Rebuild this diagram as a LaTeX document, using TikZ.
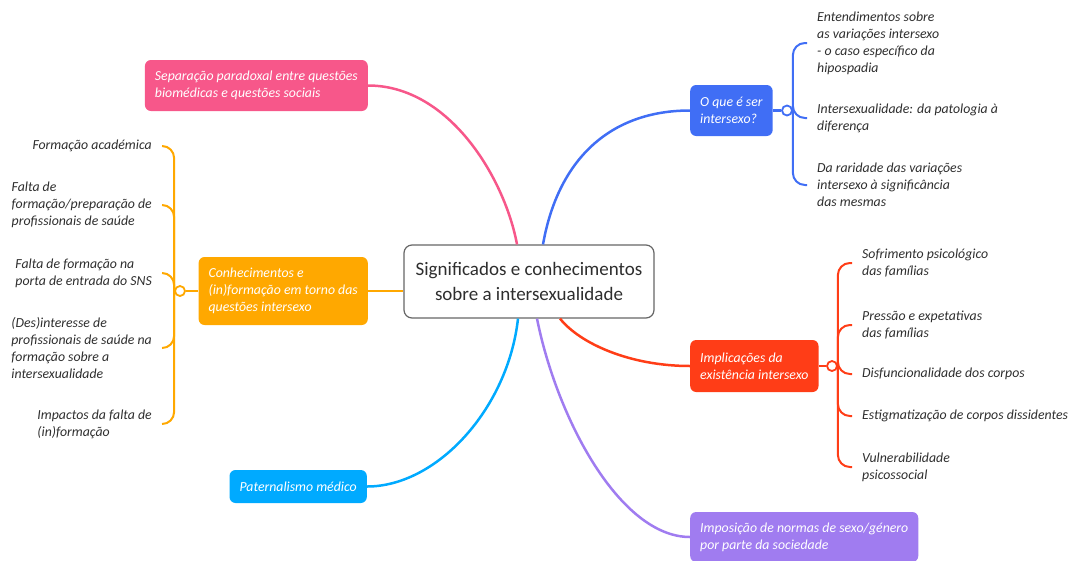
\documentclass[tikz,border=0pt]{standalone}
\usepackage{fontspec}
\setmainfont{Carlito}
\usetikzlibrary{calc}
\definecolor{mmpink}{HTML}{F7578A}
\definecolor{mmblue}{HTML}{406EF5}
\definecolor{mmorange}{HTML}{FFA800}
\definecolor{mmred}{HTML}{FF3D17}
\definecolor{mmpurple}{HTML}{A07CF0}
\definecolor{mmcyan}{HTML}{00AAFF}
\definecolor{leafgray}{HTML}{2E2E2E}
\definecolor{coregray}{HTML}{666666}

\begin{document}
\begin{tikzpicture}[x=1pt, y=-1pt,
  core/.style={draw=coregray, line width=1.2pt, fill=white, rounded corners=8pt, minimum width=250pt, minimum height=73pt, align=center, text=leafgray, font=\fontsize{19}{25}\selectfont},
  topic/.style={rounded corners=6pt, text=white, align=left, inner xsep=10pt, minimum height=51pt, font=\fontsize{13.8}{17}\selectfont\itshape},
  leaf/.style={text=leafgray, align=left, inner xsep=10pt, inner ysep=0pt, font=\fontsize{13.8}{17}\selectfont\itshape},
  hub/.style={circle, draw=#1, fill=white, line width=1.8pt, minimum size=10pt, inner sep=0pt},
  branch/.style={draw=#1, line width=2.5pt},
  twig/.style={draw=#1, line width=2pt, rounded corners=12pt}
]
  \useasboundingbox (0,0) rectangle (1070,560);

  % centre and main topics
  \node[core] (core) at (529,281.5) {Significados e conhecimentos\\sobre a intersexualidade};
  \node[topic, fill=mmpink, anchor=east] (sep) at (368,85.5) {Separação paradoxal entre questões\\biomédicas e questões sociais};
  \node[topic, fill=mmorange, anchor=east, minimum height=68pt] (conh) at (368,291) {Conhecimentos e\\(in)formação em torno das\\questões intersexo};
  \node[topic, fill=mmcyan, anchor=east, minimum height=33pt] (pat) at (367,486.5) {Paternalismo médico};
  \node[topic, fill=mmblue, anchor=west] (oque) at (690,110.5) {O que é ser\\intersexo?};
  \node[topic, fill=mmred, anchor=west, minimum height=52pt] (impl) at (690,366) {Implicações da\\existência intersexo};
  \node[topic, fill=mmpurple, anchor=west, minimum height=50pt] (impo) at (690,537) {Imposição de normas de sexo/género\\por parte da sociedade};

  \draw[branch=mmpink] (sep.east) .. controls +(82,0) and +(-12,-65) .. ($(core.north)+(-12,0)$);
  \draw[branch=mmblue] ($(core.north)+(14,0)$) .. controls +(15,-85) and +(-80,0) .. (oque.west);
  \draw[branch=mmorange] (conh.east) -- (conh.east -| core.west);
  \draw[branch=mmred] ($(core.south)+(31,0)$) .. controls +(20,25) and +(-60,0) .. (impl.west);
  \draw[branch=mmpurple] ($(core.south)+(8,0)$) .. controls +(20,100) and +(-70,0) .. (impo.west);
  \draw[branch=mmcyan] (pat.east) .. controls +(70,0) and +(-10,90) .. ($(core.south)+(-11,0)$);

  % hubs
  \node[hub=mmorange] (hconh) at (180,291) {};
  \node[hub=mmblue] (hoque) at (787,110.5) {};
  \node[hub=mmred] (himpl) at (832,366) {};
  \draw[branch=mmorange] (hconh.east) -- (conh.west);
  \draw[branch=mmblue] (oque.east) -- (hoque.west);
  \draw[branch=mmred] (impl.east) -- (himpl.west);

  % orange leaves
  \node[leaf, anchor=east] (f1) at (162,146) {Formação académica};
  \node[leaf, anchor=east] (f2) at (162,205) {Falta de\\formação/preparação de\\profissionais de saúde};
  \node[leaf, anchor=east] (f3) at (162,273) {Falta de formação na\\porta de entrada do SNS};
  \node[leaf, anchor=east] (f4) at (162,348) {(Des)interesse de\\profissionais de saúde na\\formação sobre a\\intersexualidade};
  \node[leaf, anchor=east] (f5) at (162,424) {Impactos da falta de\\(in)formação};
  \foreach \l in {f1,f2,f3,f4,f5}
    \draw[twig=mmorange] (hconh.west) |- (\l.east);

  % blue leaves
  \node[leaf, anchor=west] (b1) at (807,43) {Entendimentos sobre\\as variações intersexo\\- o caso específico da\\hipospadia};
  \node[leaf, anchor=west] (b2) at (807,118) {Intersexualidade: da patologia à\\diferença};
  \node[leaf, anchor=west] (b3) at (807,185) {Da raridade das variações\\intersexo à significância\\das mesmas};
  \foreach \l in {b1,b2,b3}
    \draw[twig=mmblue] (hoque.east) |- (\l.west);

  % red leaves
  \node[leaf, anchor=west] (r1) at (852,263) {Sofrimento psicológico\\das famílias};
  \node[leaf, anchor=west] (r2) at (852,325) {Pressão e expetativas\\das famílias};
  \node[leaf, anchor=west] (r3) at (852,374) {Disfuncionalidade dos corpos};
  \node[leaf, anchor=west] (r4) at (852,416) {Estigmatização de corpos dissidentes};
  \node[leaf, anchor=west] (r5) at (852,467) {Vulnerabilidade\\psicossocial};
  \foreach \l in {r1,r2,r3,r4,r5}
    \draw[twig=mmred] (himpl.east) |- (\l.west);
\end{tikzpicture}
\end{document}
